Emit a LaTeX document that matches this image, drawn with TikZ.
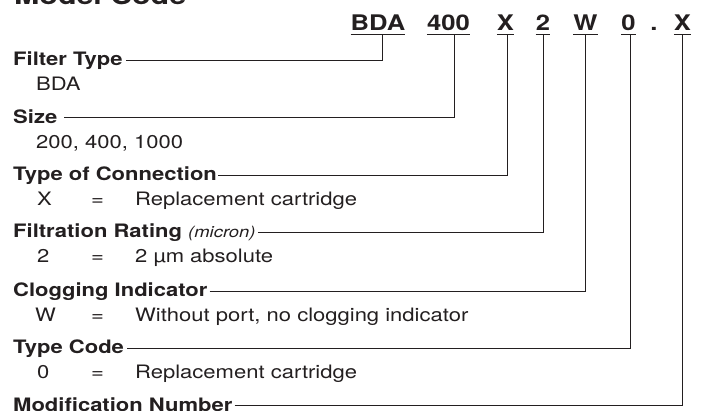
\documentclass[tikz,border=0pt]{standalone}
\usepackage{fontspec}
\setmainfont[FakeStretch=1.19]{TeX Gyre Heros}
\definecolor{ink}{HTML}{231F20}
\begin{document}
\begin{tikzpicture}[x=1pt,y=-1pt,
  lbl/.style={anchor=base west,inner sep=0pt,text height=14pt,text depth=3pt,text=ink,font=\fontsize{18.5}{22}\selectfont\bfseries},
  val/.style={anchor=base west,inner sep=0pt,text=ink,font=\fontsize{18.5}{22}\selectfont},
  code/.style={anchor=base,inner sep=0pt,text depth=4pt,text=ink,font=\fontsize{21.5}{26}\selectfont\bfseries},
  lead/.style={draw=ink,line width=1pt}]
\useasboundingbox (0,0) rectangle (702,410);
% title, cut at the top
\node[anchor=base west,inner sep=0pt,text=ink,font=\fontsize{25.5}{30}\selectfont\bfseries] (title) at (14,4) {Model Code};
% the code
\node[code] (bda) at (378,30) {BDA};
\node[code] (size) at (448.5,30) {400};
\node[code] (conn) at (505.5,30) {X};
\node[code] (rate) at (543,30) {2};
\node[code] (clog) at (585.5,30) {W};
\node[code] (tcode) at (628.5,30) {0};
\node[code] (dot) at (654,30) {.};
\node[code] (mod) at (682.5,30) {X};
\draw[lead,line width=1.3pt] (bda.south west) -- (bda.south east);
\draw[lead,line width=1.3pt] (size.south west) -- (size.south east);
\draw[lead,line width=1.3pt] (conn.south west) -- (conn.south east);
\draw[lead,line width=1.3pt] (rate.south west) -- (rate.south east);
\draw[lead,line width=1.3pt] (clog.south west) -- (clog.south east);
\draw[lead,line width=1.3pt] (tcode.south west) -- (tcode.south east);
\draw[lead,line width=1.3pt] (mod.south west) -- (mod.south east);
% the labels
\node[lbl] (lft) at (13,65.5) {Filter Type};
\node[val] (vft) at (36,90.5) {BDA};
\node[lbl] (lsize) at (13,123) {Size};
\node[val] (vsize) at (36,148) {200, 400, 1000};
\node[lbl] (lconn) at (13,180.5) {Type of Connection};
\node[val] (kconn) at (37,205.5) {X};
\node[val] (eqconn) at (91,205.5) {=};
\node[val] (vconn) at (135,205.5) {Replacement cartridge};
\node[lbl] (lrate) at (13,237.5) {Filtration Rating {\fontsize{15.5}{18}\selectfont\mdseries\itshape (micron)}};
\node[val] (krate) at (37,262.5) {2};
\node[val] (eqrate) at (91,262.5) {=};
\node[val] (vrate) at (135,262.5) {2 µm absolute};
\node[lbl] (lclog) at (13,296.5) {Clogging Indicator};
\node[val] (kclog) at (35,321.5) {W};
\node[val] (eqclog) at (91,321.5) {=};
\node[val] (vclog) at (135,321.5) {Without port, no clogging indicator};
\node[lbl] (ltcode) at (13,353.5) {Type Code};
\node[val] (ktcode) at (37,378.5) {0};
\node[val] (eqtcode) at (91,378.5) {=};
\node[val] (vtcode) at (135,378.5) {Replacement cartridge};
\node[lbl] (lmod) at (13,411) {Modification Number};
% leader lines
\draw[lead] ([xshift=3pt]lft.east) -| ([xshift=4pt]bda.south);
\draw[lead] ([xshift=7pt]lsize.east) -| ([xshift=5.5pt]size.south);
\draw[lead] ([xshift=1pt]lconn.east) -| ([xshift=1.5pt]conn.south);
\draw[lead] ([xshift=2pt]lrate.east) -| (rate.south);
\draw[lead] ([xshift=2pt]lclog.east) -| (clog.south);
\draw[lead] ([xshift=3pt]ltcode.east) -| ([xshift=1.5pt]tcode.south);
\draw[lead] ([xshift=2pt]lmod.east) -| (mod.south);
\end{tikzpicture}
\end{document}
